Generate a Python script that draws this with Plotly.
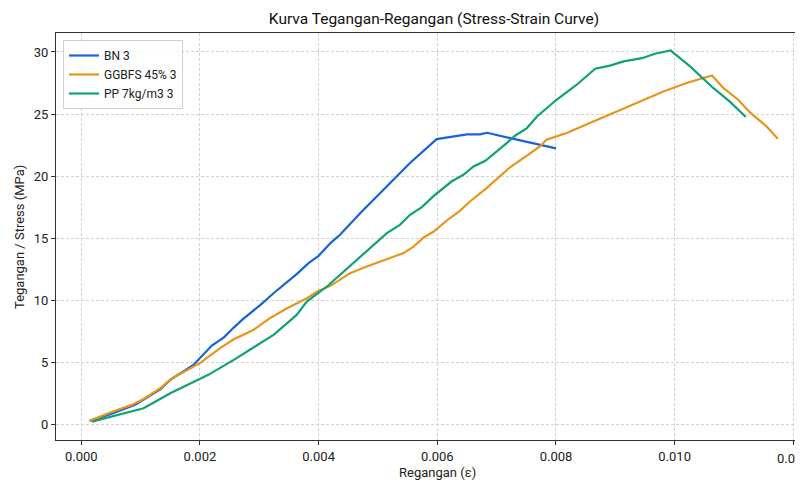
import plotly.graph_objects as go

# BN 3
bn_x = [0.00014, 0.00049, 0.00091, 0.00133, 0.0015, 0.00189, 0.0022, 0.0024, 0.00257, 0.00271,
        0.00302, 0.00324, 0.00363, 0.00383, 0.0040, 0.0042, 0.00436, 0.0047, 0.00526, 0.00554,
        0.00599, 0.00638, 0.0065, 0.00672, 0.00684, 0.00723, 0.00756, 0.0080]
bn_y = [0.27, 0.8, 1.56, 2.82, 3.57, 4.78, 6.34, 6.98, 7.79, 8.41,
        9.62, 10.56, 12.1, 12.98, 13.57, 14.6, 15.27, 17.0, 19.7, 21.05,
        22.98, 23.25, 23.36, 23.36, 23.49, 23.06, 22.7, 22.23]

# GGBFS 45% 3
gg_x = [0.00014, 0.00049, 0.00085, 0.00105, 0.00133, 0.00153, 0.0020, 0.00234, 0.00257, 0.0029,
        0.00318, 0.00347, 0.0038, 0.0040, 0.0042, 0.00453, 0.00481, 0.00515, 0.00543, 0.0056,
        0.00577, 0.00594, 0.00616, 0.00638, 0.00655, 0.00683, 0.00723, 0.00751, 0.00773, 0.00784,
        0.00818, 0.00863, 0.00902, 0.00942, 0.00981, 0.0102, 0.01063, 0.01082, 0.01107, 0.01127,
        0.01155, 0.01174]
gg_y = [0.27, 0.94, 1.56, 2.04, 2.9, 3.71, 4.92, 6.13, 6.85, 7.6,
        8.55, 9.35, 10.16, 10.75, 11.15, 12.18, 12.71, 13.3, 13.79, 14.32,
        15.05, 15.53, 16.42, 17.2, 17.95, 19.03, 20.73, 21.64, 22.39, 22.93,
        23.47, 24.4, 25.21, 26.02, 26.82, 27.5, 28.11, 27.1, 26.15, 25.13,
        24.0, 23.0]

# PP 7kg/m3 3
pp_x = [0.00018, 0.0006, 0.00105, 0.0015, 0.00214, 0.00257, 0.00324, 0.00363, 0.0038, 0.00414,
        0.00459, 0.00481, 0.00515, 0.00537, 0.00554, 0.00574, 0.00594, 0.00624, 0.00644, 0.00661,
        0.00681, 0.00717, 0.00731, 0.00751, 0.00768, 0.00801, 0.00835, 0.00866, 0.00891, 0.00914,
        0.00945, 0.00967, 0.00993, 0.01026, 0.01065, 0.01093, 0.0112]
pp_y = [0.21, 0.75, 1.29, 2.5, 3.98, 5.19, 7.2, 8.81, 9.89, 11.1,
        12.98, 13.92, 15.4, 16.07, 16.88, 17.5, 18.4, 19.56, 20.1, 20.77,
        21.23, 22.66, 23.25, 23.87, 24.8, 26.15, 27.36, 28.65, 28.9, 29.24,
        29.5, 29.86, 30.13, 28.84, 27.1, 26.0, 24.76]

series = [
    ("BN 3", bn_x, bn_y, "#1a62d6"),
    ("GGBFS 45% 3", gg_x, gg_y, "#e5961a"),
    ("PP 7kg/m3 3", pp_x, pp_y, "#12a077"),
]

x_ticks = [0.0, 0.002, 0.004, 0.006, 0.008, 0.010, 0.012]
x_tick_text = ["0.000", "0.002", "0.004", "0.006", "0.008", "0.010", "0.012"]
y_ticks = [0, 5, 10, 15, 20, 25, 30]

FONT = "Roboto"
# page body has an 8px margin; figure size/margins compensate for it
W, H = 795, 475
ML, MR, MT, MB = 48, 0, 25, 43
PW, PH = W - ML - MR, H - MT - MB
TICK_SIZE = 13

fig = go.Figure()
for name, xs, ys, col in series:
    fig.add_trace(go.Scatter(x=xs, y=ys, mode="lines", name=name,
                             line=dict(color=col, width=2.2)))

fig.update_layout(
    width=W, height=H,
    margin=dict(l=ML, r=MR, t=MT, b=MB, autoexpand=False),
    paper_bgcolor="white", plot_bgcolor="white",
    font=dict(family=FONT, size=12, color="#222"),
    title=dict(text="Kurva Tegangan-Regangan (Stress-Strain Curve)",
               x=426 / W, xanchor="center", xref="container", y=1 - 11 / H, yanchor="middle",
               yref="container",
               font=dict(family=FONT, size=15.5, color="#111")),
    legend=dict(x=7 / PW, y=1 - 7 / PH, xanchor="left", yanchor="top",
                bgcolor="rgba(255,255,255,0.85)", bordercolor="#d0d0d0", borderwidth=1,
                font=dict(family=FONT, size=12, color="#222"),
                tracegroupgap=0, itemwidth=30),
    showlegend=True,
    annotations=[
        dict(text="Regangan (ε)", xref="paper", yref="paper",
             x=(437 - 56) / PW, y=-(472 - 440) / PH, xanchor="center", yanchor="middle",
             showarrow=False, font=dict(family=FONT, size=13, color="#222")),
        dict(text="Tegangan / Stress (MPa)", xref="paper", yref="paper",
             x=-(56 - 20) / PW, y=(440 - 237) / PH, xanchor="center", yanchor="middle",
             textangle=-90, showarrow=False, font=dict(family=FONT, size=13, color="#222")),
        # last tick label, cut by the page edge as in the reference
        dict(text=x_tick_text[-1], xref="x", yref="paper",
             x=x_ticks[-1], y=-(459 - 440) / PH, xanchor="center", yanchor="middle",
             showarrow=False, font=dict(family=FONT, size=TICK_SIZE, color="#222")),
    ],
)
fig.update_xaxes(
    range=[-0.000426, 0.012163], tickvals=x_ticks, ticktext=x_tick_text,
    showgrid=True, gridcolor="#d2d2d2", griddash="3px,2px", gridwidth=1,
    zeroline=False, showline=True, linecolor="#333", linewidth=1.2, mirror=True,
    ticks="outside", ticklen=4, tickcolor="#333", automargin=False,
    tickfont=dict(family=FONT, size=TICK_SIZE, color="#222"),
)
fig.update_yaxes(
    range=[-1.27, 31.53], tickvals=y_ticks,
    showgrid=True, gridcolor="#d2d2d2", griddash="3px,2px", gridwidth=1,
    zeroline=False, showline=True, linecolor="#333", linewidth=1.2, mirror=False,
    ticks="outside", ticklen=4, tickcolor="#333", automargin=False,
    tickfont=dict(family=FONT, size=TICK_SIZE, color="#222"),
)

fig.write_html("out.html")
